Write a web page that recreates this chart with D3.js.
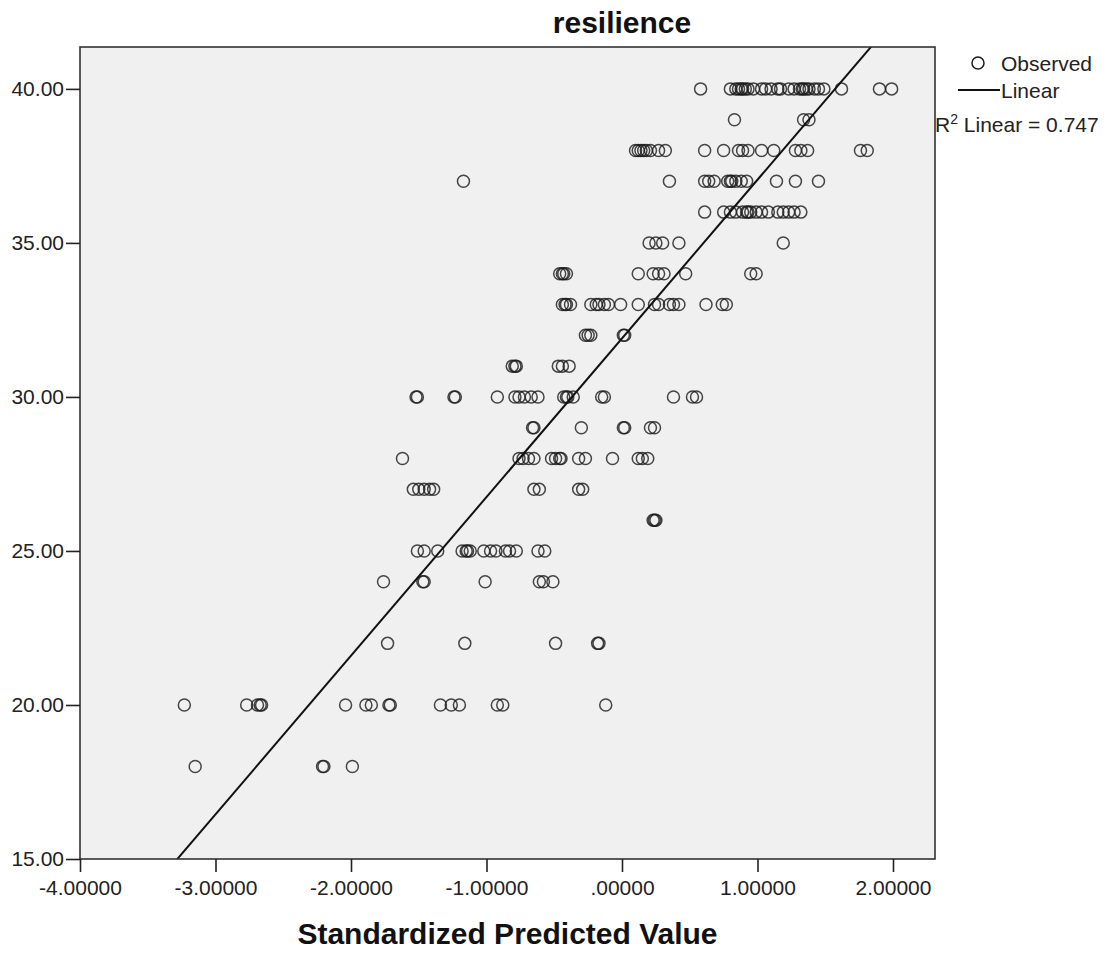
<!DOCTYPE html>
<html>
<head>
<meta charset="utf-8">
<script src="https://cdn.jsdelivr.net/npm/d3@7"></script>
<style>
body { margin: 0; background: #fff; }
text { font-family: "Liberation Sans", Arial, sans-serif; }
</style>
</head>
<body>
<svg id="chart"></svg>
<script>
// resilience score for each row of points, and the standardized predicted values in that row
const resilienceLevels = [40, 39, 38, 37, 36, 35, 34, 33, 32, 31, 30, 29, 28, 27, 26, 25, 24, 22, 20, 18];
const predictedAtLevel = [
  [0.58, 0.80, 0.84, 0.86, 0.88, 0.89, 0.91, 0.93, 0.97, 1.03, 1.06, 1.10, 1.15, 1.17, 1.23, 1.27, 1.31, 1.33, 1.34, 1.36, 1.38, 1.42, 1.45, 1.49, 1.62, 1.90, 1.99],
  [0.83, 1.34, 1.38],
  [0.10, 0.12, 0.14, 0.16, 0.18, 0.21, 0.27, 0.32, 0.61, 0.75, 0.86, 0.89, 0.93, 1.03, 1.12, 1.28, 1.32, 1.37, 1.76, 1.81],
  [-1.17, 0.35, 0.61, 0.64, 0.68, 0.78, 0.80, 0.81, 0.84, 0.88, 0.92, 1.14, 1.28, 1.45],
  [0.61, 0.75, 0.80, 0.84, 0.89, 0.92, 0.93, 0.95, 0.99, 1.03, 1.08, 1.15, 1.19, 1.23, 1.27, 1.32],
  [0.20, 0.25, 0.30, 0.42, 1.19],
  [-0.46, -0.44, -0.43, -0.41, 0.12, 0.23, 0.27, 0.31, 0.47, 0.95, 0.99],
  [-0.44, -0.42, -0.41, -0.38, -0.23, -0.19, -0.17, -0.13, -0.10, -0.01, 0.12, 0.24, 0.27, 0.35, 0.38, 0.42, 0.62, 0.74, 0.77],
  [-0.27, -0.25, -0.23, 0.01, 0.02],
  [-0.81, -0.79, -0.78, -0.47, -0.44, -0.39],
  [-1.52, -1.51, -1.24, -1.23, -0.92, -0.79, -0.76, -0.72, -0.67, -0.62, -0.43, -0.41, -0.40, -0.36, -0.15, -0.13, 0.38, 0.52, 0.55],
  [-0.66, -0.65, -0.30, 0.01, 0.02, 0.21, 0.24],
  [-1.62, -0.76, -0.73, -0.69, -0.65, -0.52, -0.49, -0.46, -0.45, -0.32, -0.27, -0.07, 0.12, 0.15, 0.19],
  [-1.54, -1.50, -1.46, -1.42, -1.39, -0.65, -0.61, -0.32, -0.29],
  [0.23, 0.24, 0.25],
  [-1.51, -1.46, -1.36, -1.18, -1.15, -1.14, -1.12, -1.02, -0.97, -0.93, -0.86, -0.83, -0.78, -0.62, -0.57],
  [-1.76, -1.47, -1.46, -1.01, -0.61, -0.58, -0.51],
  [-1.73, -1.16, -0.49, -0.18, -0.17],
  [-3.23, -2.77, -2.69, -2.67, -2.66, -2.04, -1.89, -1.85, -1.72, -1.71, -1.34, -1.26, -1.20, -0.92, -0.88, -0.12],
  [-3.15, -2.21, -2.20, -1.99]
];

// fitted linear line (R2 = 0.747)
const fitIntercept = 31.9;
const fitSlope = 5.15;
const rSquared = "0.747";

const xTicks = [-4, -3, -2, -1, 0, 1, 2];
const yTicks = [15, 20, 25, 30, 35, 40];
const xDomain = [-4, 2.31];
const yDomain = [15, 41.36];

const titleText = "resilience";
const xLabelText = "Standardized Predicted Value";

var dims = {
  width: 1109,
  height: 953,
  plot: { left: 80, right: 935, top: 47, bottom: 859 }
};

var svg = d3.select("#chart")
  .attr("width", dims.width)
  .attr("height", dims.height);

var points = resilienceLevels.flatMap((lvl, i) => predictedAtLevel[i].map(p => ({ x: p, y: lvl })));

var xScale = d3.scaleLinear().domain(xDomain).range([dims.plot.left, dims.plot.right]);
var yScale = d3.scaleLinear().domain(yDomain).range([dims.plot.bottom, dims.plot.top]);

// plot background
svg.append("rect")
  .attr("x", dims.plot.left)
  .attr("y", dims.plot.top)
  .attr("width", dims.plot.right - dims.plot.left)
  .attr("height", dims.plot.bottom - dims.plot.top)
  .style("fill", "#f0f0f0");

svg.append("clipPath").attr("id", "plotclip")
  .append("rect")
  .attr("x", dims.plot.left)
  .attr("y", dims.plot.top)
  .attr("width", dims.plot.right - dims.plot.left)
  .attr("height", dims.plot.bottom - dims.plot.top);

var plotArea = svg.append("g").attr("clip-path", "url(#plotclip)");

// observed points
plotArea.selectAll("circle")
  .data(points)
  .enter()
  .append("circle")
  .attr("cx", d => xScale(d.x))
  .attr("cy", d => yScale(d.y))
  .attr("r", 6)
  .style("fill", "none")
  .style("stroke", "#1a1a1a")
  .style("stroke-opacity", 0.8)
  .style("stroke-width", 1.5);

// linear fit
var fitLine = d3.line()
  .x(d => xScale(d))
  .y(d => yScale(fitIntercept + fitSlope * d));

plotArea.append("path")
  .datum(xDomain)
  .attr("d", fitLine)
  .style("fill", "none")
  .style("stroke", "#111")
  .style("stroke-width", 2);

// frame
svg.append("rect")
  .attr("x", dims.plot.left)
  .attr("y", dims.plot.top)
  .attr("width", dims.plot.right - dims.plot.left)
  .attr("height", dims.plot.bottom - dims.plot.top)
  .style("fill", "none")
  .style("stroke", "#333")
  .style("stroke-width", 1.6);

var xFormat = d => (d < 0 ? "-" : "") + Math.abs(d).toFixed(5).replace(/^0\./, ".");
var yFormat = d => d.toFixed(2);

var xAxisGen = d3.axisBottom(xScale).tickValues(xTicks).tickFormat(xFormat).tickSize(13).tickPadding(8);
var yAxisGen = d3.axisLeft(yScale).tickValues(yTicks).tickFormat(yFormat).tickSize(14).tickPadding(2);

var xAxis = svg.append("g")
  .attr("transform", `translate(0,${dims.plot.bottom})`)
  .call(xAxisGen);
var yAxis = svg.append("g")
  .attr("transform", `translate(${dims.plot.left},0)`)
  .call(yAxisGen);

[xAxis, yAxis].forEach(ax => {
  ax.select(".domain").remove();
  ax.selectAll(".tick line").style("stroke", "#222").style("stroke-width", 1.6);
  ax.selectAll(".tick text")
    .style("font-size", "21px")
    .style("fill", "#222")
    .style("font-family", "'Liberation Sans', Arial, sans-serif");
});

// title and axis label
svg.append("text")
  .attr("x", 622)
  .attr("y", 33)
  .attr("text-anchor", "middle")
  .style("font-size", "30px")
  .style("font-weight", "bold")
  .style("fill", "#111")
  .text(titleText);

svg.append("text")
  .attr("x", (dims.plot.left + dims.plot.right) / 2)
  .attr("y", 944)
  .attr("text-anchor", "middle")
  .style("font-size", "30px")
  .style("font-weight", "bold")
  .style("fill", "#111")
  .text(xLabelText);

// legend
var legend = svg.append("g");
legend.append("circle")
  .attr("cx", 978).attr("cy", 63).attr("r", 6)
  .style("fill", "none").style("stroke", "#1a1a1a").style("stroke-width", 1.5);
legend.append("text")
  .attr("x", 1001).attr("y", 71)
  .style("font-size", "21px").style("fill", "#222")
  .text("Observed");
legend.append("line")
  .attr("x1", 958).attr("x2", 1000).attr("y1", 90).attr("y2", 90)
  .style("stroke", "#111").style("stroke-width", 2);
legend.append("text")
  .attr("x", 1001).attr("y", 98)
  .style("font-size", "21px").style("fill", "#222")
  .text("Linear");
var r2 = legend.append("text")
  .attr("x", 935).attr("y", 132)
  .style("font-size", "21px").style("fill", "#222");
r2.append("tspan").text("R");
r2.append("tspan").attr("dy", -8).style("font-size", "14px").text("2");
r2.append("tspan").attr("dy", 8).text(" Linear = " + rSquared);
</script>
</body>
</html>
